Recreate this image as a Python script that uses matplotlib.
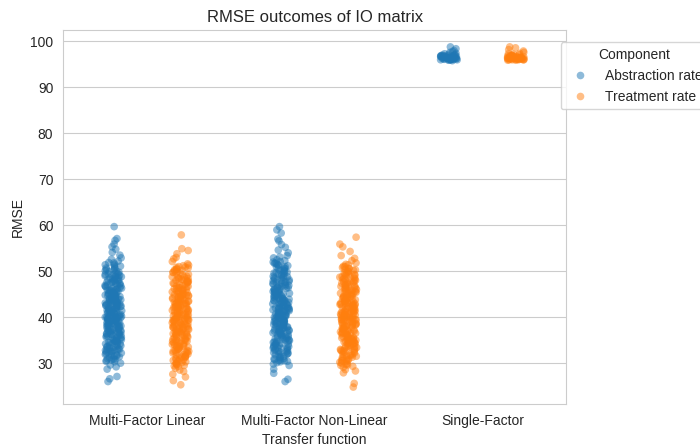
import numpy as np
import pandas as pd
import seaborn as sns
import matplotlib
matplotlib.use("Agg")
import matplotlib.pyplot as plt

# RMSE values, one list per (transfer function, component)
abs_mfl = [
    59.7, 57.1, 56.7, 55.9, 55.3, 54.8, 54.1, 53.5, 52.9, 52.6,
    52.2, 51.8, 51.5, 51.1, 50.7, 50.4, 50.1, 49.8, 49.5, 49.1,
    48.8, 48.6, 48.3, 47.9, 47.6, 47.4, 47.0, 46.8, 46.5, 46.2,
    45.9, 45.6, 45.4, 45.1, 44.8, 44.6, 44.3, 44.0, 43.8, 43.5,
    43.3, 43.0, 42.7, 42.5, 42.2, 42.0, 41.7, 41.5, 41.2, 41.0,
    40.7, 40.5, 40.2, 40.0, 39.7, 39.5, 39.2, 39.0, 38.7, 38.5,
    38.2, 38.0, 37.7, 37.5, 37.2, 36.9, 36.7, 36.4, 36.1, 35.9,
    35.6, 35.3, 35.1, 34.8, 34.5, 34.2, 33.9, 33.6, 33.3, 33.0,
    32.7, 32.4, 32.1, 31.8, 31.5, 31.2, 30.9, 30.6, 30.3, 30.0,
    29.6, 29.2, 28.7, 27.1, 26.6, 26.0,
    50.6, 49.3, 48.1, 46.9, 45.3, 44.1, 43.1, 42.4, 41.6, 40.8,
    40.1, 39.4, 38.8, 38.1, 37.3, 36.5, 35.5, 34.4, 33.1, 31.7,
    47.2, 44.9, 42.9, 41.3, 39.9, 38.4, 36.8, 34.7, 32.6, 30.8,
    51.4, 48.5, 46.0, 43.7, 41.9, 40.3, 38.9, 37.0, 35.2, 32.9,
    50.9, 49.6, 48.4, 47.7, 46.4, 45.8, 45.0, 44.5, 43.9, 43.4,
    42.8, 42.3, 41.8, 41.4, 40.9, 40.4, 39.8, 39.3, 38.6, 38.0,
    37.4, 36.8, 36.2, 35.7, 35.0, 34.3, 33.7, 33.0, 32.2, 31.4,
    49.0, 47.5, 46.1, 44.7, 43.6, 42.6, 41.1, 40.0, 39.1, 37.9,
    36.6, 35.4, 34.0, 32.8, 31.0, 48.9, 45.7, 43.2, 40.6, 38.3,
    50.3, 48.7, 47.1, 45.5, 44.2, 42.1, 39.6, 37.1, 34.6, 33.4,
    51.9, 49.9, 46.6, 44.4, 41.0, 39.0, 36.3, 35.8, 31.9, 30.4,
    50.0, 49.2, 48.0, 47.3, 46.3, 45.2, 44.6, 43.8, 43.1, 42.5,
    41.9, 41.2, 40.6, 40.1, 39.4, 38.8, 38.2, 37.6, 36.9, 36.1,
    35.3, 34.5, 33.8, 32.9, 32.0, 49.4, 47.8, 46.7, 45.1, 44.0,
    42.9, 41.6, 40.3, 39.2, 37.8, 36.4, 35.0, 33.5, 31.6, 30.7,
    51.2, 48.2, 45.9, 43.4, 41.4, 39.9, 38.4, 36.7, 34.2, 32.5,
]
trt_mfl = [
    57.9, 54.9, 54.5, 53.8, 53.0, 52.7, 52.1, 51.6, 51.2, 50.9,
    50.5, 50.2, 49.8, 49.6, 49.3, 48.9, 48.6, 48.4, 48.0, 47.7,
    47.5, 47.2, 46.9, 46.6, 46.3, 46.0, 45.8, 45.5, 45.2, 44.9,
    44.7, 44.4, 44.1, 43.9, 43.6, 43.3, 43.1, 42.8, 42.6, 42.3,
    42.1, 41.8, 41.6, 41.3, 41.0, 40.8, 40.5, 40.3, 40.0, 39.8,
    39.5, 39.3, 39.0, 38.8, 38.5, 38.2, 38.0, 37.7, 37.4, 37.2,
    36.9, 36.6, 36.3, 36.0, 35.8, 35.5, 35.2, 34.9, 34.6, 34.3,
    34.0, 33.7, 33.4, 33.1, 32.8, 32.5, 32.2, 31.9, 31.5, 31.2,
    30.8, 30.5, 30.1, 29.7, 29.3, 28.9, 28.5, 27.6, 27.0, 26.2,
    25.3,
    49.9, 48.2, 46.7, 45.4, 44.2, 43.0, 42.2, 41.4, 40.6, 39.9,
    39.1, 38.3, 37.5, 36.7, 35.9, 34.8, 33.6, 32.3, 30.9, 29.5,
    51.0, 47.9, 45.0, 42.9, 41.1, 39.6, 37.9, 36.1, 33.9, 31.4,
    50.7, 47.0, 44.5, 42.5, 40.9, 39.4, 37.0, 35.0, 32.7, 30.3,
    50.1, 49.2, 48.5, 47.4, 46.5, 45.7, 44.8, 44.0, 43.4, 42.7,
    42.0, 41.5, 40.7, 40.2, 39.7, 39.2, 38.6, 38.1, 37.6, 36.8,
    36.2, 35.6, 34.7, 34.1, 33.3, 32.6, 31.8, 31.0, 30.0, 29.4,
    48.8, 47.3, 45.9, 44.6, 43.5, 42.4, 41.2, 40.4, 38.9, 37.3,
    36.4, 35.3, 33.8, 32.4, 30.7, 49.5, 46.1, 43.8, 41.7, 38.4,
    50.4, 48.1, 46.4, 44.3, 42.9, 40.1, 37.8, 35.1, 33.0, 31.6,
    51.3, 47.8, 45.3, 43.2, 39.4, 36.5, 34.4, 32.0, 29.9, 28.2,
    49.7, 48.7, 47.6, 46.8, 45.6, 44.5, 43.7, 42.9, 42.2, 41.6,
    40.9, 40.0, 39.5, 38.7, 38.0, 37.3, 36.6, 35.7, 35.0, 34.2,
    33.5, 32.6, 31.7, 30.6, 29.8, 50.3, 48.3, 46.2, 44.9, 43.3,
    41.9, 40.5, 39.2, 37.9, 36.3, 34.8, 33.2, 31.3, 50.8, 45.1,
]
abs_mfnl = [
    59.7, 59.0, 58.3, 57.0, 56.6, 55.8, 55.2, 54.6, 54.0, 53.4,
    52.9, 52.5, 52.1, 51.7, 51.4, 51.0, 50.7, 50.3, 50.0, 49.7,
    49.4, 49.1, 48.8, 48.5, 48.2, 47.9, 47.6, 47.3, 47.0, 46.7,
    46.4, 46.1, 45.9, 45.6, 45.3, 45.0, 44.8, 44.5, 44.2, 44.0,
    43.7, 43.4, 43.2, 42.9, 42.6, 42.4, 42.1, 41.9, 41.6, 41.3,
    41.1, 40.8, 40.6, 40.3, 40.0, 39.8, 39.5, 39.3, 39.0, 38.7,
    38.5, 38.2, 37.9, 37.7, 37.4, 37.1, 36.8, 36.5, 36.2, 36.0,
    35.7, 35.4, 35.1, 34.8, 34.5, 34.2, 33.9, 33.6, 33.3, 33.0,
    32.7, 32.4, 32.1, 31.8, 31.5, 31.2, 30.9, 30.5, 30.1, 29.8,
    28.7, 27.8, 26.5, 26.0,
    51.2, 49.5, 48.0, 46.6, 45.2, 44.1, 43.0, 42.2, 41.4, 40.7,
    39.9, 39.2, 38.4, 37.6, 36.7, 35.6, 34.4, 33.2, 32.0, 30.7,
    50.5, 47.8, 45.5, 43.6, 41.8, 40.2, 38.6, 36.9, 34.9, 32.6,
    52.3, 48.7, 46.3, 43.9, 42.0, 40.4, 38.9, 37.3, 35.3, 33.5,
    51.6, 50.2, 49.0, 47.7, 46.9, 45.8, 44.9, 44.3, 43.5, 42.8,
    42.3, 41.7, 41.0, 40.5, 39.7, 39.1, 38.3, 37.8, 37.0, 36.3,
    35.5, 34.7, 34.0, 33.1, 32.3, 31.6, 30.8, 30.3, 29.5, 53.1,
    49.8, 48.3, 46.5, 45.1, 43.8, 42.5, 41.2, 40.1, 38.8, 37.5,
    36.4, 35.2, 33.8, 32.5, 31.0, 50.6, 47.4, 44.6, 42.7, 39.6,
    51.3, 48.9, 47.1, 45.4, 44.0, 41.5, 39.4, 37.2, 34.6, 33.4,
    52.0, 49.2, 46.2, 43.3, 40.9, 38.1, 36.6, 35.9, 31.9, 30.6,
    50.9, 49.6, 48.6, 47.5, 46.0, 45.0, 44.4, 43.6, 42.7, 42.0,
    41.3, 40.6, 39.9, 39.2, 38.6, 38.0, 37.3, 36.7, 35.8, 35.0,
    34.1, 33.3, 32.2, 31.4, 30.4, 50.1, 48.1, 46.8, 45.7, 44.7,
    43.1, 41.9, 40.2, 38.5, 37.6, 36.1, 34.3, 32.8, 51.8, 47.2,
]
trt_mfnl = [
    57.4, 55.9, 55.3, 54.3, 53.4, 52.8, 52.3, 51.8, 51.4, 51.0,
    50.6, 50.3, 49.9, 49.6, 49.3, 49.0, 48.7, 48.4, 48.1, 47.8,
    47.5, 47.2, 46.9, 46.6, 46.3, 46.0, 45.7, 45.4, 45.1, 44.9,
    44.6, 44.3, 44.0, 43.8, 43.5, 43.2, 43.0, 42.7, 42.4, 42.2,
    41.9, 41.7, 41.4, 41.1, 40.9, 40.6, 40.4, 40.1, 39.9, 39.6,
    39.3, 39.1, 38.8, 38.5, 38.3, 38.0, 37.7, 37.4, 37.1, 36.8,
    36.5, 36.2, 35.9, 35.6, 35.3, 35.0, 34.7, 34.4, 34.1, 33.8,
    33.5, 33.2, 32.9, 32.6, 32.3, 31.9, 31.6, 31.3, 30.9, 30.6,
    30.2, 29.9, 29.5, 29.1, 28.3, 27.9, 25.6, 24.8,
    50.8, 48.9, 47.4, 45.9, 44.5, 43.3, 42.3, 41.5, 40.7, 39.8,
    39.0, 38.2, 37.3, 36.4, 35.4, 34.3, 33.1, 31.8, 30.4, 29.7,
    49.4, 46.8, 44.7, 42.8, 41.2, 39.5, 37.8, 35.8, 33.7, 31.1,
    51.5, 48.0, 45.6, 43.4, 41.6, 40.0, 38.6, 36.6, 34.6, 32.2,
    50.0, 49.1, 48.2, 47.3, 46.4, 45.5, 44.8, 44.1, 43.6, 42.9,
    42.5, 41.8, 41.3, 40.8, 40.2, 39.7, 39.2, 38.7, 38.1, 37.6,
    37.0, 36.3, 35.7, 35.1, 34.5, 33.9, 33.3, 32.5, 31.7, 30.8,
    49.7, 47.6, 46.2, 44.4, 43.1, 42.0, 40.5, 39.4, 37.9, 36.7,
    35.5, 34.2, 32.8, 31.5, 30.0, 48.6, 45.8, 43.7, 41.0, 38.4,
    50.4, 47.9, 46.5, 44.2, 42.6, 40.3, 37.2, 35.2, 33.0, 29.3,
    51.1, 48.3, 45.2, 43.0, 39.5, 36.9, 34.9, 32.4, 30.7, 28.6,
    50.2, 48.8, 47.7, 46.7, 45.3, 44.6, 43.9, 43.1, 42.3, 41.6,
    40.8, 40.0, 39.4, 38.9, 38.2, 37.5, 36.8, 36.0, 35.2, 34.5,
    33.6, 32.7, 31.9, 30.5, 29.6, 49.3, 47.0, 45.8, 44.0, 42.8,
    41.2, 39.6, 38.3, 36.5, 34.8, 33.4, 31.2, 50.6, 46.1, 40.6,
]
abs_sf = [
    98.8, 98.4, 98.0, 97.8, 97.6, 97.4, 97.2, 97.1, 97.0, 96.9,
    96.8, 96.7, 96.6, 96.5, 96.5, 96.4, 96.3, 96.3, 96.2, 96.1,
    96.1, 96.0, 96.0, 95.9, 95.8, 96.7, 96.4, 96.2, 96.9, 96.6,
    96.3, 96.1, 97.0, 96.5, 96.2, 96.8, 96.4, 96.0, 97.3, 96.6,
    96.2, 96.5, 96.0, 96.3, 96.7, 96.1, 96.4, 96.9, 96.2, 96.0,
]
trt_sf = [
    98.8, 98.6, 98.2, 97.9, 97.6, 97.4, 97.2, 97.0, 96.9, 96.8,
    96.7, 96.6, 96.5, 96.5, 96.4, 96.3, 96.3, 96.2, 96.1, 96.1,
    96.0, 96.0, 95.9, 95.9, 96.7, 96.4, 96.2, 96.9, 96.6, 96.3,
    96.1, 97.1, 96.5, 96.2, 96.8, 96.4, 96.0, 97.3, 96.6, 96.3,
    96.2, 96.5, 96.0, 96.3, 96.7, 96.1, 96.4, 96.8, 96.2, 96.0,
]

functions = ["Multi-Factor Linear", "Multi-Factor Non-Linear", "Single-Factor"]
components = ["Abstraction rate", "Treatment rate"]

groups = {
    (functions[0], components[0]): abs_mfl,
    (functions[0], components[1]): trt_mfl,
    (functions[1], components[0]): abs_mfnl,
    (functions[1], components[1]): trt_mfnl,
    (functions[2], components[0]): abs_sf,
    (functions[2], components[1]): trt_sf,
}
rows = []
for (func, comp), vals in groups.items():
    for v in vals:
        rows.append({"Transfer function": func, "Component": comp, "RMSE": v})
df = pd.DataFrame(rows)

sns.set_style("whitegrid")
plt.rcParams["font.family"] = ["Liberation Sans", "DejaVu Sans"]

np.random.seed(0)
fig = plt.figure(figsize=(7, 4.46), dpi=100)
ax = fig.add_axes([0.09, 0.094, 0.719, 0.839])
sns.stripplot(data=df, x="Transfer function", y="RMSE", hue="Component",
              order=functions, hue_order=components, dodge=True, alpha=0.5,
              size=5.5, ax=ax)
ax.set_title("RMSE outcomes of IO matrix")
sns.move_legend(ax, "upper left", bbox_to_anchor=(0.975, 0.985))

fig.savefig("out.png", dpi=100)
